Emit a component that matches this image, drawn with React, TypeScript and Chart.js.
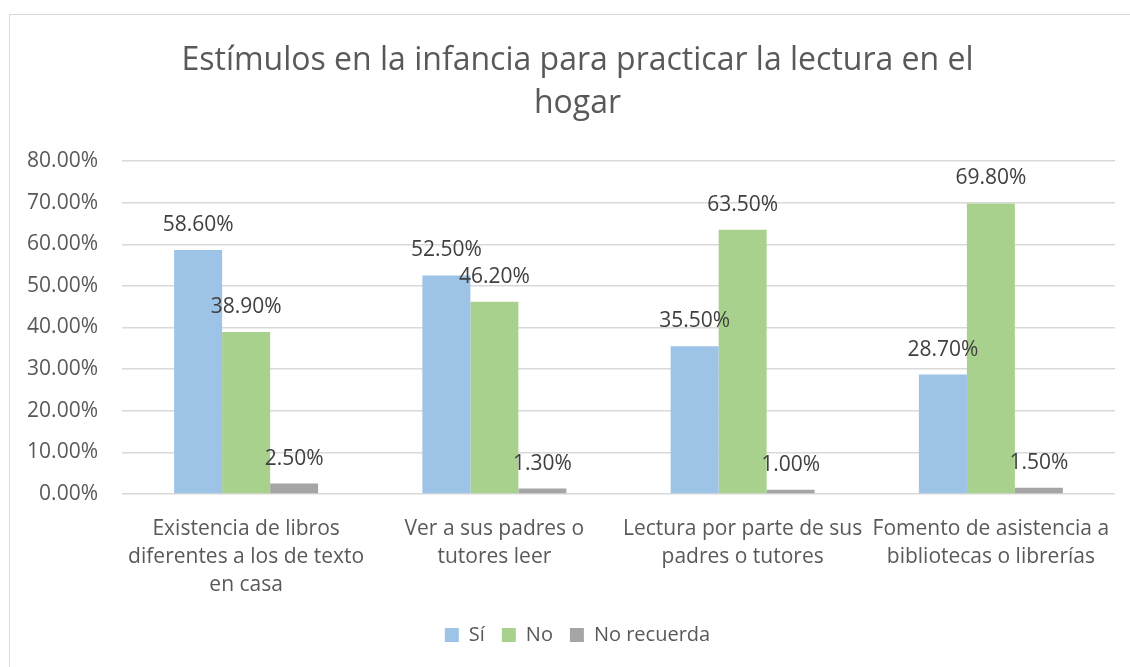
import React, { useEffect, useRef } from 'react';
import { Chart, registerables } from 'chart.js';

Chart.register(...registerables);

const titleLines = ['Estímulos en la infancia para practicar la lectura en el', 'hogar'];
const categories = [
  ['Existencia de libros', 'diferentes a los de texto', 'en casa'],
  ['Ver a sus padres o', 'tutores leer'],
  ['Lectura por parte de sus', 'padres o tutores'],
  ['Fomento de asistencia a', 'bibliotecas o librerías'],
];
const seriesNames = ['Sí', 'No', 'No recuerda'];
const siValues = [58.6, 52.5, 35.5, 28.7];
const noValues = [38.9, 46.2, 63.5, 69.8];
const noRecuerdaValues = [2.5, 1.3, 1.0, 1.5];
const yMin = 0;
const yMax = 80;
const yStep = 10;

const FONT = "'Open Sans', 'DejaVu Sans', sans-serif";

const dataLabelPlugin = {
  id: 'dataLabels',
  afterDatasetsDraw(chart: any) {
    const ctx = chart.ctx;
    ctx.save();
    ctx.font = `21px ${FONT}`;
    ctx.fillStyle = '#404040';
    ctx.textAlign = 'center';
    ctx.textBaseline = 'middle';
    chart.data.datasets.forEach((ds: any, i: number) => {
      const meta = chart.getDatasetMeta(i);
      meta.data.forEach((el: any, j: number) => {
        const v = ds.data[j] as number;
        ctx.fillText(v.toFixed(2) + '%', el.x, el.y - 25);
      });
    });
    ctx.restore();
  },
};

// widen the y-axis label area to the canvas edge so labels are not clipped
const yLabelAreaPlugin = {
  id: 'yLabelArea',
  afterLayout(chart: any) {
    if (chart.scales.y) chart.scales.y.left = 0;
  },
};

export default function App() {
  const ref = useRef<HTMLCanvasElement>(null);
  useEffect(() => {
    const chart = new Chart(ref.current!, {
      type: 'bar',
      data: {
        labels: categories,
        datasets: [
          { label: seriesNames[0], data: siValues, backgroundColor: '#9DC3E6' },
          { label: seriesNames[1], data: noValues, backgroundColor: '#A9D18E' },
          { label: seriesNames[2], data: noRecuerdaValues, backgroundColor: '#A5A5A5' },
        ],
      },
      options: {
        responsive: false,
        animation: false,
        devicePixelRatio: 1,
        datasets: { bar: { categoryPercentage: 0.58, barPercentage: 1.0 } },
        layout: { padding: { left: 40, right: 15, top: 0, bottom: 12 } },
        plugins: {
          tooltip: { enabled: false },
          title: {
            display: true,
            text: titleLines,
            color: '#595959',
            font: { family: FONT, size: 32, weight: 'normal', lineHeight: 43 / 32 },
            padding: { top: 39, bottom: 36 },
          },
          legend: {
            position: 'bottom',
            labels: {
              boxWidth: 14,
              boxHeight: 14,
              padding: 17,
              color: '#595959',
              font: { family: FONT, size: 20 },
            },
          },
        },
        scales: {
          x: {
            grid: { display: false },
            border: { display: false },
            ticks: {
              color: '#595959',
              font: { family: FONT, size: 21, lineHeight: 28 / 21 },
              maxRotation: 0,
              minRotation: 0,
              autoSkip: false,
              padding: 13,
            },
            afterFit: (scale: any) => { scale.height = 114; },
          },
          y: {
            min: yMin,
            max: yMax,
            border: { display: false },
            grid: { color: '#D9D9D9', lineWidth: 1.5, drawTicks: false },
            ticks: {
              stepSize: yStep,
              color: '#595959',
              font: { family: FONT, size: 21 },
              padding: 24,
              callback: (v: any) => Number(v).toFixed(2) + '%',
            },
            afterFit: (scale: any) => { scale.width = 82; },
          },
        },
      },
      plugins: [dataLabelPlugin, yLabelAreaPlugin],
    });
    return () => chart.destroy();
  }, []);
  return (
    <div style={{ position: 'fixed', left: 0, top: 0, width: 1130, height: 667, overflow: 'hidden', background: '#fff' }}>
      <div style={{ position: 'absolute', left: 9, top: 14, width: 1140, height: 680, border: '1px solid #D9D9D9' }} />
      <canvas ref={ref} width={1130} height={667} style={{ position: 'absolute', left: 0, top: 0, width: 1130, height: 667 }} />
    </div>
  );
}
